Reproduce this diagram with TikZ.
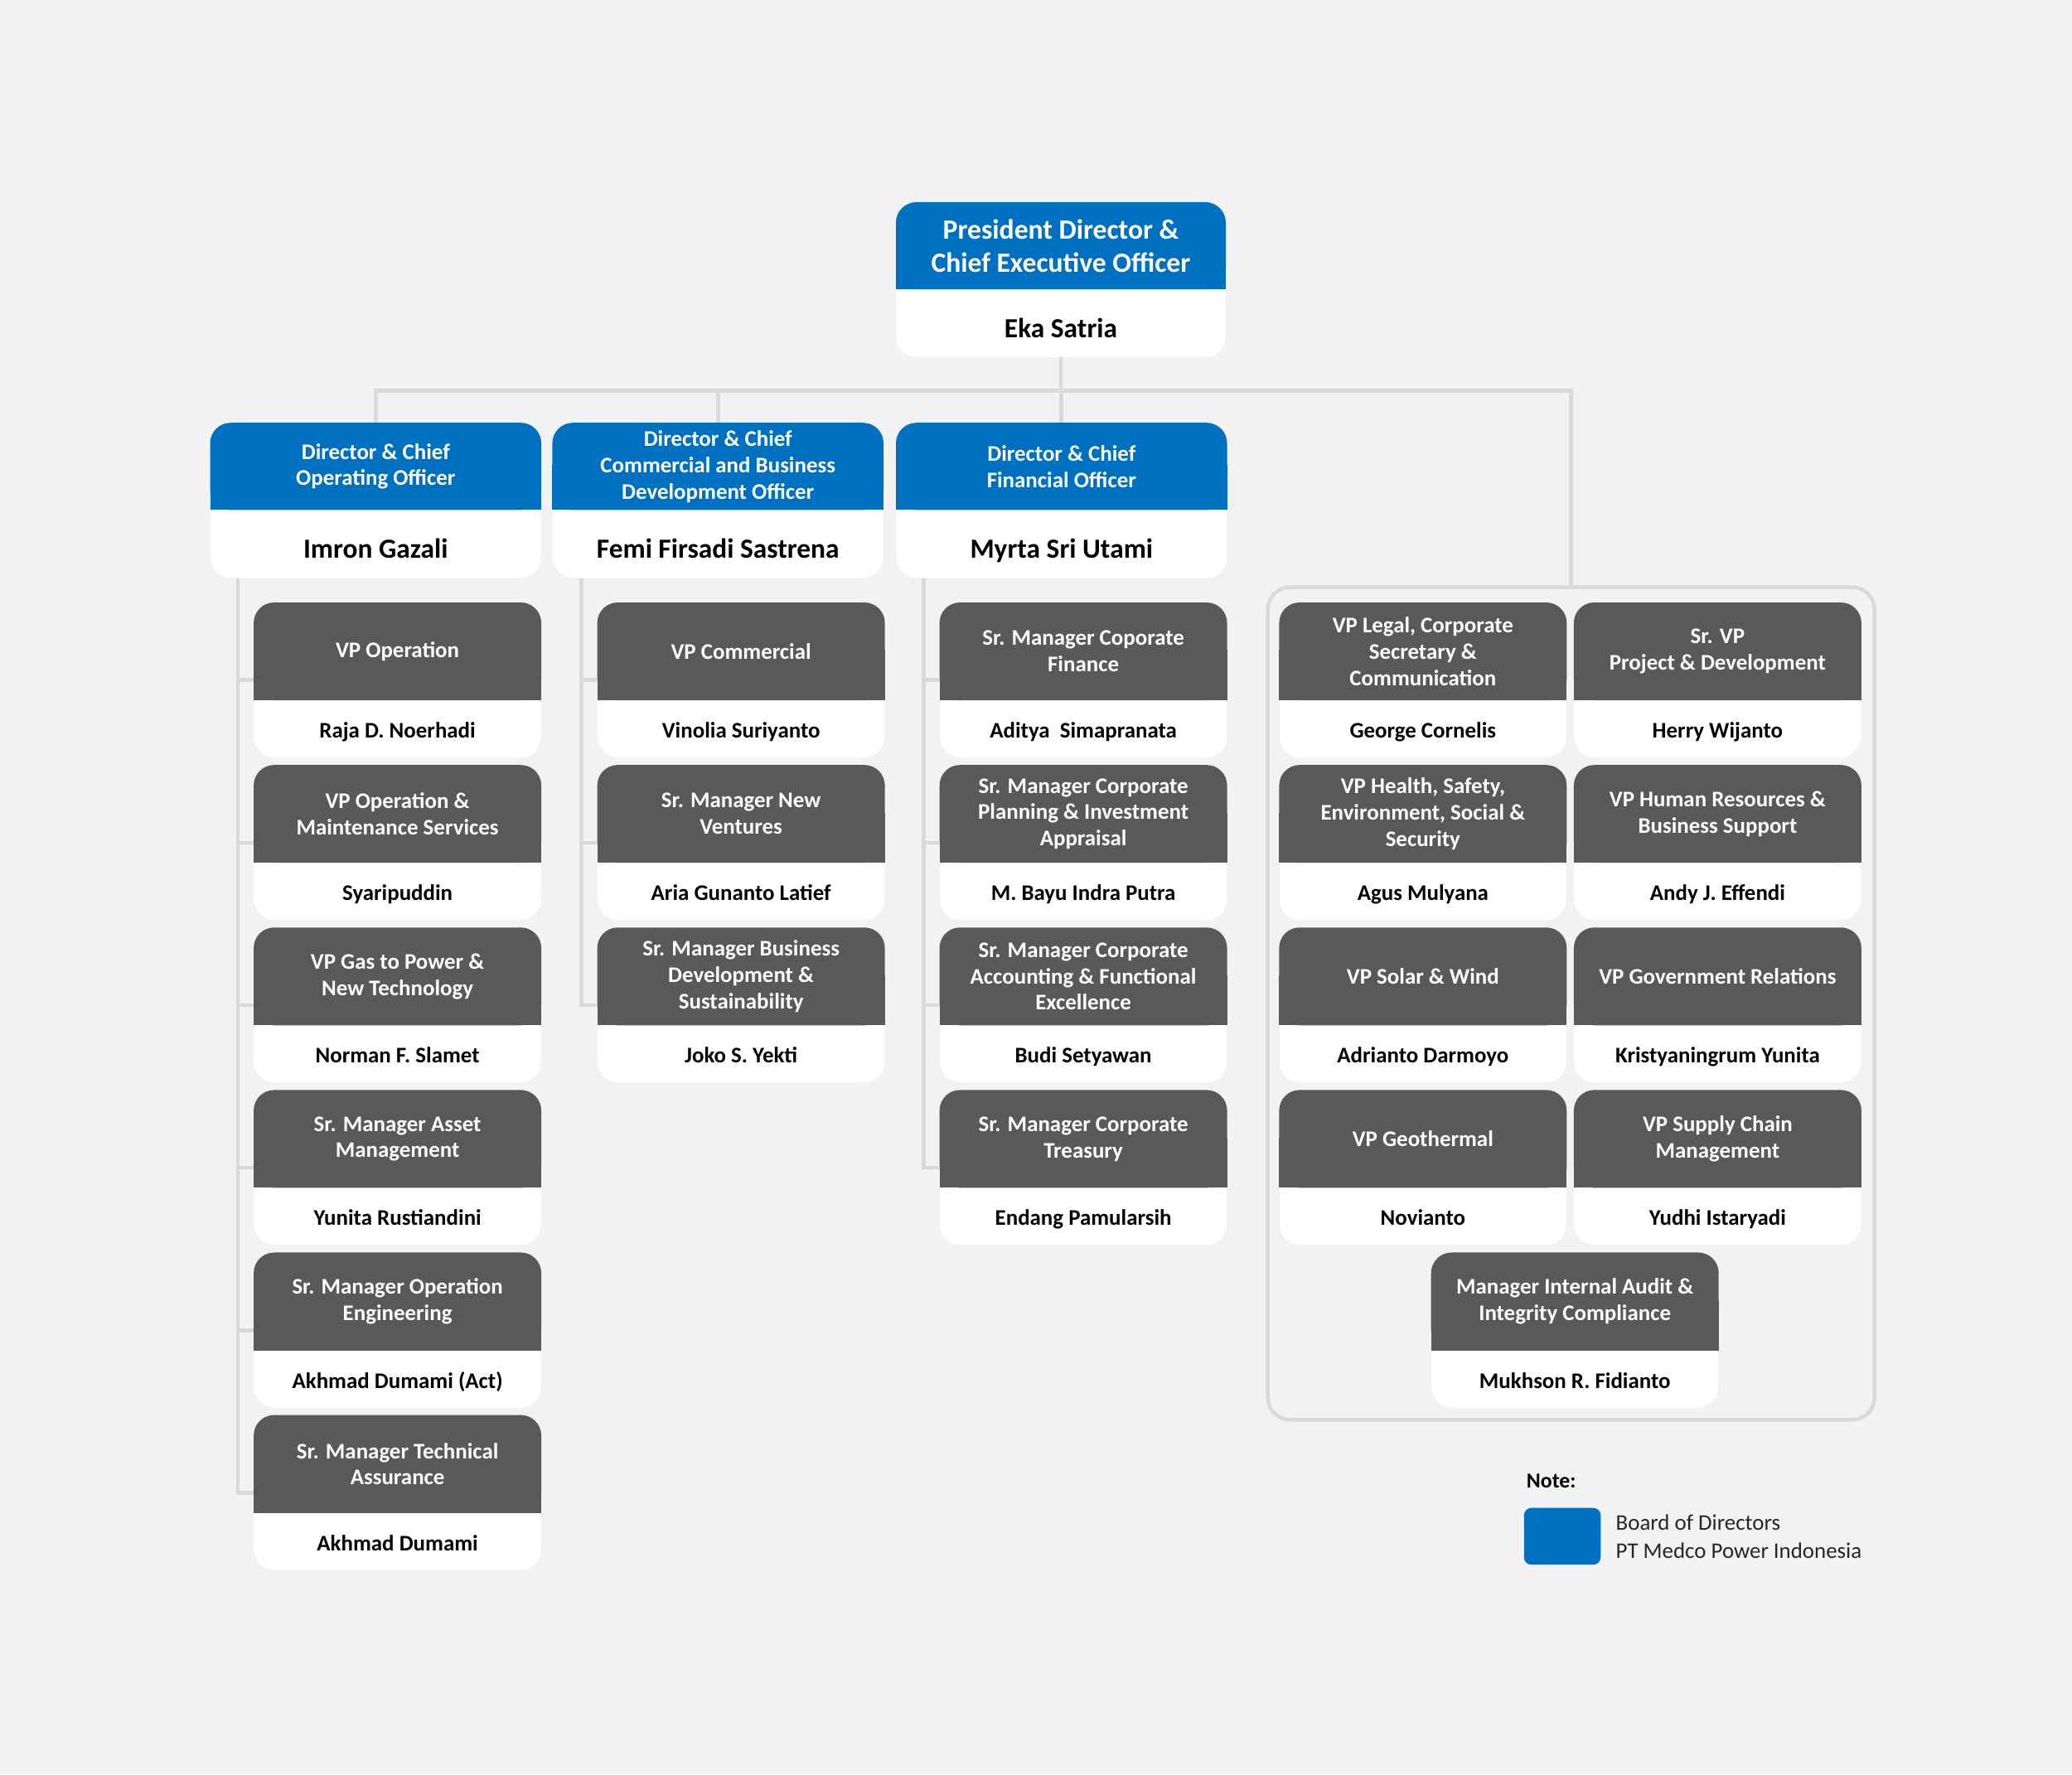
\documentclass[tikz,border=0pt]{standalone}
\usepackage{fontspec}
\setmainfont{Carlito}
\usetikzlibrary{positioning}

\definecolor{mpblue}{RGB}{0,112,192}
\definecolor{mpgrey}{RGB}{89,89,89}
\definecolor{mpline}{RGB}{217,217,217}
\definecolor{mpback}{RGB}{242,242,242}

% board member: name, x, y (top left), title, person
\newcommand{\board}[5]{%
  \node[card, minimum width=6.25cm] (#1) at (#2,#3) {};
  \fill[mpblue, rounded corners=11pt] (#1.north west) rectangle ([yshift=-1.65cm]#1.north east);
  \fill[mpblue] ([yshift=-0.8cm]#1.north west) rectangle ([yshift=-1.65cm]#1.north east);
  \node[bhead] at ([yshift=-0.825cm]#1.north) {#4};
  \node[bname] (#1N) at ([yshift=0.375cm]#1.south) {#5};
}
% staff member: name, x, y (top left), title, person
\newcommand{\staff}[5]{%
  \node[card, minimum width=5.425cm] (#1) at (#2,#3) {};
  \fill[mpgrey, rounded corners=11pt] (#1.north west) rectangle ([yshift=-1.85cm]#1.north east);
  \fill[mpgrey] ([yshift=-0.9cm]#1.north west) rectangle ([yshift=-1.85cm]#1.north east);
  \node[shead] at ([yshift=-0.925cm]#1.north) {#4};
  \node[sname] (#1N) at ([yshift=0.375cm]#1.south) {#5};
}

\begin{document}
\begin{tikzpicture}[x=0.025cm,y=-0.025cm]
\tikzstyle{card}=[rectangle, fill=white, rounded corners=11pt, inner sep=0, anchor=north west, minimum height=2.925cm]
\tikzstyle{bhead}=[text=white, align=center, inner sep=0, font=\bfseries\fontsize{12}{14.2}\selectfont]
\tikzstyle{bname}=[text=black, anchor=base, inner sep=0, font=\bfseries\fontsize{14.9}{17}\selectfont]
\tikzstyle{shead}=[text=white, align=center, inner sep=0, font=\bfseries\fontsize{12}{14.2}\selectfont]
\tikzstyle{sname}=[text=black, anchor=base, inner sep=0, font=\bfseries\fontsize{12}{14}\selectfont]
\tikzstyle{group}=[rectangle, draw=mpline, line width=2pt, rounded corners=12pt, anchor=north west, inner sep=0]
\tikzstyle{link}=[draw=mpline, line width=2.1pt]

\fill[mpback] (0,0) rectangle (1568,1343);

% group of staff under the CEO
\node[group, minimum width=11.475cm, minimum height=15.75cm] (GRP) at (958,443) {};

% board of directors
\node[card, minimum width=6.225cm] (CEO) at (678,153) {};
\fill[mpblue, rounded corners=11pt] (CEO.north west) rectangle ([yshift=-1.65cm]CEO.north east);
\fill[mpblue] ([yshift=-0.8cm]CEO.north west) rectangle ([yshift=-1.65cm]CEO.north east);
\node[bhead, font=\bfseries\fontsize{15}{17.7}\selectfont] at ([yshift=-0.825cm]CEO.north) {President Director \&\\Chief Executive Officer};
\node[bname] (CEON) at ([yshift=0.375cm]CEO.south) {Eka Satria};

\board{COO}{159}{320}{Director \& Chief\\Operating Officer}{Imron Gazali}
\board{CCO}{418}{320}{Director \& Chief\\Commercial and Business\\Development Officer}{Femi Firsadi Sastrena}
\board{CFO}{678}{320}{Director \& Chief\\Financial Officer}{Myrta Sri Utami}

% operations
\staff{OP1}{192}{456}{VP Operation}{Raja D. Noerhadi}
\staff{OP2}{192}{579}{VP Operation \&\\Maintenance Services}{Syaripuddin}
\staff{OP3}{192}{702}{VP Gas to Power \&\\New Technology}{Norman F. Slamet}
\staff{OP4}{192}{825}{Sr. Manager Asset\\Management}{Yunita Rustiandini}
\staff{OP5}{192}{948}{Sr. Manager Operation\\Engineering}{Akhmad Dumami (Act)}
\staff{OP6}{192}{1071}{Sr. Manager Technical\\Assurance}{Akhmad Dumami}

% commercial
\staff{CM1}{452}{456}{VP Commercial}{Vinolia Suriyanto}
\staff{CM2}{452}{579}{Sr. Manager New\\Ventures}{Aria Gunanto Latief}
\staff{CM3}{452}{702}{Sr. Manager Business\\Development \&\\Sustainability}{Joko S. Yekti}

% finance
\staff{FI1}{711}{456}{Sr. Manager Coporate\\Finance}{Aditya\ \ Simapranata}
\staff{FI2}{711}{579}{Sr. Manager Corporate\\Planning \& Investment\\Appraisal}{M. Bayu Indra Putra}
\staff{FI3}{711}{702}{Sr. Manager Corporate\\Accounting \& Functional\\Excellence}{Budi Setyawan}
\staff{FI4}{711}{825}{Sr. Manager Corporate\\Treasury}{Endang Pamularsih}

% group
\staff{G1}{968}{456}{VP Legal, Corporate\\Secretary \&\\Communication}{George Cornelis}
\staff{G2}{1191}{456}{Sr. VP\\Project \& Development}{Herry Wijanto}
\staff{G3}{968}{579}{VP Health, Safety,\\Environment, Social \&\\Security}{Agus Mulyana}
\staff{G4}{1191}{579}{VP Human Resources \&\\Business Support}{Andy J. Effendi}
\staff{G5}{968}{702}{VP Solar \& Wind}{Adrianto Darmoyo}
\staff{G6}{1191}{702}{VP Government Relations}{Kristyaningrum Yunita}
\staff{G7}{968}{825}{VP Geothermal}{Novianto}
\staff{G8}{1191}{825}{VP Supply Chain\\Management}{Yudhi Istaryadi}
\staff{G9}{1083}{948}{Manager Internal Audit \&\\Integrity Compliance}{Mukhson R. Fidianto}

% links
\coordinate (BUS) at ([yshift=-0.625cm]CEO.south);
\draw[link] (CEO.south) -- (BUS);
\draw[link] (COO.north) |- (BUS) -| (GRP.north);
\draw[link] (CCO.north) -- (CCO.north |- BUS);
\draw[link] (CFO.north) -- (CFO.north |- BUS);

\coordinate (S1) at ([xshift=-0.3cm]OP1.west |- COO.south);
\coordinate (S2) at ([xshift=-0.3cm]CM1.west |- CCO.south);
\coordinate (S3) at ([xshift=-0.3cm]FI1.west |- CFO.south);
\draw[link] (S1) |- (OP6.west);
\draw[link] (S2) |- (CM3.west);
\draw[link] (S3) |- (FI4.west);
\foreach \c in {OP1,OP2,OP3,OP4,OP5} \draw[link] (S1 |- \c.west) -- (\c.west);
\foreach \c in {CM1,CM2} \draw[link] (S2 |- \c.west) -- (\c.west);
\foreach \c in {FI1,FI2,FI3} \draw[link] (S3 |- \c.west) -- (\c.west);

% note
\node[anchor=base west, inner sep=0, font=\bfseries\fontsize{11.5}{14}\selectfont] (NOTE) at (1155,1126) {Note:};
\node[fill=mpblue, rounded corners=4pt, anchor=north west, minimum width=1.45cm, minimum height=1.075cm, inner sep=0] (KEY) at (1153,1141) {};
\node[right=0.275cm of KEY, inner sep=0, align=left, text=black!85, font=\fontsize{12}{15}\selectfont] (KEYT) {Board of Directors\\PT Medco Power Indonesia};
\end{tikzpicture}
\end{document}
